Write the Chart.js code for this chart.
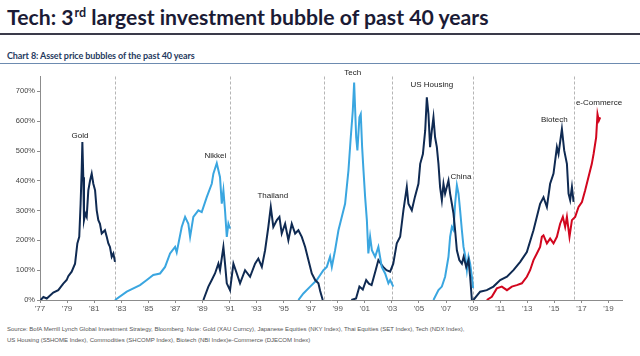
<!DOCTYPE html>
<html><head><meta charset="utf-8">
<script src="https://cdn.jsdelivr.net/npm/chart.js@4.4.1/dist/chart.umd.min.js"></script>
<style>
body{margin:0;width:640px;height:356px;background:#fff;position:relative;overflow:hidden}
#title{position:absolute;left:7px;top:4px;font:bold 21.2px Lato,"Open Sans",sans-serif;color:#1b1b35;white-space:nowrap;line-height:26px}
#title .sup{font-size:12.5px;position:relative;top:-8px;margin-left:1px}
#rule1{position:absolute;left:0;top:33px;width:640px;height:1.5px;background:#3a3a4a}
#sub{position:absolute;left:7px;top:50px;font:bold 9px Lato,sans-serif;color:#1f3a60;white-space:nowrap;letter-spacing:-0.1px}
#rule2{position:absolute;left:0;top:62.5px;width:640px;height:1px;background:#6d8bb0}
#wrap{position:absolute;left:0;top:70px;width:640px;height:246px}
.src{position:absolute;left:7px;font:6px "Liberation Sans",Arial,sans-serif;color:#555;white-space:nowrap}
</style></head>
<body>
<div id="title">Tech: 3<span class="sup">rd</span> largest investment bubble of past 40 years</div>
<div id="rule1"></div>
<div id="sub">Chart 8: Asset price bubbles of the past 40 years</div>
<div id="rule2"></div>
<div id="wrap"><canvas id="c" width="640" height="246"></canvas></div>
<div class="src" style="top:326px">Source: BofA Merrill Lynch Global Investment Strategy, Bloomberg. Note: Gold (XAU Curncy), Japanese Equities (NKY Index), Thai Equities (SET Index), Tech (NDX Index),</div>
<div class="src" style="top:337px">US Housing (S5HOME Index), Commodities (SHCOMP Index), Biotech (NBI Index)e-Commerce (DJECOM Index)</div>
<script>
// ---- data: [year, % gain] ----
const gold = [[1977.05,0],[1977.25,10],[1977.5,5],[1977.98,25],[1978.35,33],[1978.72,55],[1978.97,67],[1979.09,80],[1979.34,95],[1979.59,122],[1979.76,190],[1979.9,212],[1980.0,323],[1980.08,435],[1980.13,530],[1980.2,412],[1980.25,268],[1980.35,290],[1980.45,279],[1980.57,368],[1980.7,401],[1980.82,424],[1980.94,390],[1981.07,368],[1981.19,301],[1981.31,268],[1981.43,256],[1981.56,223],[1981.8,234],[1981.93,212],[1982.05,190],[1982.17,178],[1982.3,145],[1982.42,156],[1982.54,128]];
const nikkei = [[1982.54,0],[1983.41,28],[1984.39,50],[1984.89,67],[1985.37,84],[1985.87,89],[1986.24,111],[1986.61,156],[1986.98,178],[1987.1,160],[1987.47,245],[1987.72,279],[1987.96,256],[1988.09,212],[1988.33,279],[1988.7,301],[1988.95,295],[1989.32,345],[1989.69,390],[1989.81,424],[1990.06,459],[1990.3,412],[1990.43,323],[1990.55,368],[1990.67,301],[1990.8,212],[1990.92,256],[1991.04,240]];
const thailand = [[1989.07,0],[1989.44,45],[1989.69,67],[1989.93,89],[1990.18,122],[1990.3,100],[1990.55,178],[1990.67,122],[1990.8,56],[1991.04,33],[1991.29,122],[1991.54,89],[1991.78,56],[1992.15,100],[1992.52,78],[1992.89,122],[1993.13,139],[1993.39,111],[1993.63,167],[1993.87,245],[1994.05,312],[1994.24,245],[1994.5,268],[1994.69,279],[1994.86,223],[1995.11,256],[1995.35,201],[1995.6,256],[1995.85,223],[1996.09,234],[1996.34,212],[1996.59,178],[1996.83,134],[1997.08,89],[1997.33,67],[1997.57,56],[1997.7,30],[1997.89,0]];
const tech = [[1996.09,0],[1996.46,22],[1996.96,45],[1997.45,67],[1997.7,84],[1997.94,100],[1998.19,111],[1998.43,145],[1998.56,111],[1998.8,167],[1999.05,234],[1999.3,279],[1999.54,323],[1999.79,435],[1999.96,546],[2000.11,635],[2000.21,730],[2000.36,546],[2000.45,502],[2000.6,613],[2000.7,624],[2000.8,513],[2000.9,435],[2001.02,346],[2001.15,268],[2001.26,156],[2001.39,212],[2001.52,167],[2001.76,145],[2002.0,178],[2002.25,111],[2002.5,89],[2002.74,56],[2002.87,67],[2003.1,45]];
const usHousing = [[2000.0,0],[2000.35,5],[2000.6,45],[2000.85,35],[2001.1,67],[2001.3,55],[2001.5,50],[2001.8,100],[2002.0,134],[2002.13,125],[2002.35,111],[2002.6,100],[2002.87,95],[2003.1,122],[2003.36,190],[2003.61,212],[2003.85,301],[2004.1,379],[2004.22,323],[2004.47,301],[2004.7,346],[2004.96,390],[2005.09,457],[2005.29,490],[2005.46,569],[2005.58,680],[2005.7,624],[2005.82,513],[2005.95,569],[2006.07,613],[2006.19,546],[2006.32,513],[2006.44,457],[2006.56,379],[2006.69,335],[2006.81,390],[2006.93,357],[2007.18,401],[2007.3,357],[2007.43,323],[2007.55,290],[2007.67,234],[2007.8,167],[2007.98,134],[2008.17,122],[2008.3,145],[2008.49,111],[2008.66,134],[2008.78,78],[2008.91,0]];
const china = [[2006.07,0],[2006.44,33],[2006.69,45],[2006.93,78],[2007.18,145],[2007.3,212],[2007.43,245],[2007.55,235],[2007.67,323],[2007.8,385],[2007.92,357],[2008.04,301],[2008.17,234],[2008.29,178],[2008.41,150],[2008.54,100],[2008.66,145],[2008.78,122],[2008.91,78],[2009.0,40]];
const biotech = [[2009.02,0],[2009.52,28],[2010.01,33],[2010.5,45],[2011.0,67],[2011.5,78],[2011.98,100],[2012.48,128],[2012.97,161],[2013.46,234],[2013.71,279],[2013.95,323],[2014.2,345],[2014.45,312],[2014.69,390],[2014.94,424],[2015.19,513],[2015.31,490],[2015.56,574],[2015.73,502],[2015.93,457],[2016.05,357],[2016.17,335],[2016.3,379],[2016.42,329]];
const eCommerce = [[2010.01,0],[2010.38,11],[2010.75,39],[2011.12,45],[2011.5,33],[2011.86,45],[2012.23,50],[2012.6,56],[2012.97,78],[2013.21,100],[2013.46,134],[2013.71,156],[2013.95,178],[2014.08,212],[2014.2,217],[2014.45,190],[2014.69,206],[2014.94,190],[2015.19,212],[2015.43,256],[2015.63,279],[2015.8,245],[2015.93,279],[2016.12,212],[2016.3,268],[2016.54,279],[2016.79,312],[2017.04,329],[2017.28,368],[2017.52,412],[2017.77,457],[2017.9,490],[2018.09,546],[2018.19,624],[2018.29,602],[2018.39,613]];
const dividerYears = [1982.54, 1991.04, 1997.99, 2003.0, 2008.97, 2016.47];
const xTickYears = [1977,1979,1981,1983,1985,1987,1989,1991,1993,1995,1997,1999,2001,2003,2005,2007,2009,2011,2013,2015,2017,2019];
const yTickValues = [0,100,200,300,400,500,600,700];
const bubbleLabels = ['Gold','Nikkei','Thailand','Tech','US Housing','China','Biotech','e-Commerce'];
const labelYears = [1979.96, 1989.95, 1994.2, 2000.1, 2005.95, 2008.1, 2015.0, 2018.3];
const labelValues = [552, 485, 351, 763, 723, 415, 606, 663];

const NAVY = '#0f2a52', LIGHT = '#3aa6e0', RED = '#d2061e';
const series = [
  {name:'Gold', d:gold, c:NAVY},
  {name:'Nikkei', d:nikkei, c:LIGHT},
  {name:'Thailand', d:thailand, c:NAVY},
  {name:'Tech', d:tech, c:LIGHT},
  {name:'US Housing', d:usHousing, c:NAVY},
  {name:'China', d:china, c:LIGHT},
  {name:'Biotech', d:biotech, c:NAVY},
  {name:'e-Commerce', d:eCommerce, c:RED}
];

const dividers = {
  id:'dividers',
  beforeDatasetsDraw(chart){
    const {ctx, chartArea:a, scales:{x}} = chart;
    ctx.save();
    ctx.strokeStyle = '#b5b5b5'; ctx.lineWidth = 1; ctx.setLineDash([3,2]);
    dividerYears.forEach(v=>{
      const px = Math.round(x.getPixelForValue(v))+0.5;
      ctx.beginPath(); ctx.moveTo(px, a.top); ctx.lineTo(px, a.bottom); ctx.stroke();
    });
    ctx.restore();
  }
};
const labelsPlugin = {
  id:'bubbleLabels',
  afterDatasetsDraw(chart){
    const {ctx, scales:{x,y}} = chart;
    ctx.save();
    ctx.font = '8px "Liberation Sans", Arial, sans-serif';
    ctx.fillStyle = '#222'; ctx.textAlign = 'center'; ctx.textBaseline = 'middle';
    bubbleLabels.forEach((t,i)=>{
      ctx.fillText(t, x.getPixelForValue(labelYears[i]), y.getPixelForValue(labelValues[i]));
    });
    ctx.restore();
  }
};

new Chart(document.getElementById('c'), {
  type:'line',
  data:{datasets: series.map(s=>({
    label:s.name, data:s.d.map(p=>({x:p[0], y:p[1]})),
    borderColor:s.c, backgroundColor:s.c, borderWidth:2, pointRadius:0, tension:0, fill:false
  }))},
  options:{
    responsive:false, animation:false, devicePixelRatio:1,
    layout:{padding:{top:6, right:18, left:0, bottom:0}},
    plugins:{legend:{display:false}, tooltip:{enabled:false}},
    scales:{
      x:{type:'linear', min:1977, max:2020,
        afterBuildTicks(s){ s.ticks = xTickYears.map(v=>({value:v})); },
        afterFit(s){ s.height = 16; },
        grid:{display:true, drawOnChartArea:false, drawTicks:true, tickLength:3, color:'#8c8c8c'},
        border:{display:true, color:'#8c8c8c', width:1},
        ticks:{autoSkip:false, maxRotation:0, padding:1, color:'#555',
          font:{family:'"Liberation Sans", Arial, sans-serif', size:8},
          callback:v=>"'"+String(v).slice(2)}
      },
      y:{min:0, max:750,
        afterBuildTicks(s){ s.ticks = yTickValues.map(v=>({value:v})); },
        afterFit(s){ s.width = 40; },
        grid:{display:true, drawOnChartArea:false, drawTicks:true, tickLength:3, color:'#8c8c8c'},
        border:{display:true, color:'#8c8c8c', width:1},
        ticks:{padding:2, color:'#444',
          font:{family:'"Liberation Sans", Arial, sans-serif', size:7.5},
          callback:v=>v+'%'}
      }
    }
  },
  plugins:[dividers, labelsPlugin]
});
</script>
</body></html>
